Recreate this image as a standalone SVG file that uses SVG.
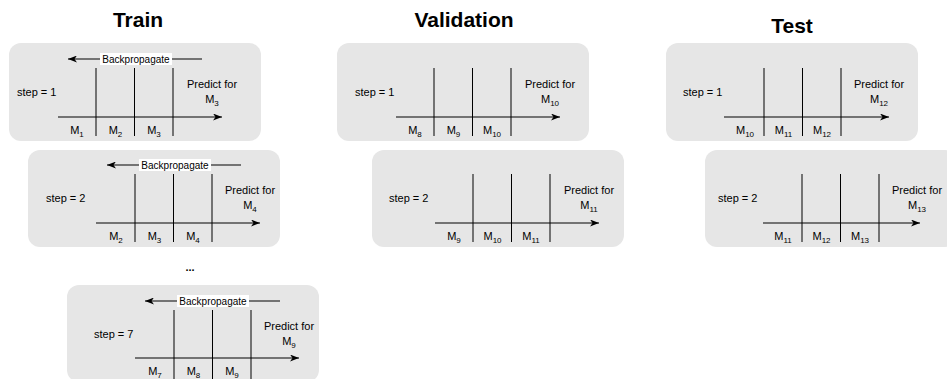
<svg xmlns="http://www.w3.org/2000/svg" width="947" height="379" viewBox="0 0 947 379">
<style>
text{font-family:"Liberation Sans",Arial,sans-serif;fill:#000}
.title{font-size:21px;font-weight:bold;text-anchor:middle}
.panel{fill:#e6e6e6;stroke:none}
.ln{stroke:#000;stroke-width:1;fill:none}
.lbl{font-size:11px}
.mid{text-anchor:middle}
.bp{font-size:10px;text-anchor:middle}
.sub{font-size:8px}
</style>
<defs>
<marker id="ah" viewBox="0 0 9 7" refX="9" refY="3.5" markerWidth="9" markerHeight="7" markerUnits="userSpaceOnUse" orient="auto">
<path d="M0,0 L9,3.5 L0,7 L2.5,3.5 z" fill="#000"/>
</marker>
</defs>
<rect width="947" height="379" fill="#fff"/>
<text class="title" x="138" y="27">Train</text>
<text class="title" x="464" y="27">Validation</text>
<text class="title" x="792" y="33">Test</text>
<text x="190" y="271" class="lbl mid" font-weight="bold">...</text>

<g id="train1" transform="translate(96,117)">
<rect class="panel" x="-87" y="-74" width="252" height="98" rx="12"/>
<g class="connectors">
<line class="ln" x1="0" y1="-49" x2="0" y2="19"/><line class="ln" x1="38.5" y1="-49" x2="38.5" y2="19"/><line class="ln" x1="77" y1="-49" x2="77" y2="19"/>
<line class="ln" x1="-38" y1="0" x2="126" y2="0" marker-end="url(#ah)"/>
<line class="ln" x1="106" y1="-58" x2="-28" y2="-58" marker-end="url(#ah)"/>
</g>
<rect x="4" y="-64" width="72" height="12" fill="#fff"/><text class="bp" x="40" y="-54.5">Backpropagate</text>
<text class="lbl" x="-79" y="-21">step = 1</text>
<text class="lbl mid" x="116" y="-29">Predict for</text><text class="lbl mid" x="116" y="-14">M<tspan class="sub" dy="3">3</tspan></text>
<text class="lbl mid" x="-19" y="17">M<tspan class="sub" dy="3">1</tspan></text><text class="lbl mid" x="19.5" y="17">M<tspan class="sub" dy="3">2</tspan></text><text class="lbl mid" x="58" y="17">M<tspan class="sub" dy="3">3</tspan></text>
</g>

<g id="train2" transform="translate(135,223)">
<rect class="panel" x="-107" y="-73" width="252" height="97" rx="12"/>
<g class="connectors">
<line class="ln" x1="0" y1="-49" x2="0" y2="19"/><line class="ln" x1="38.5" y1="-49" x2="38.5" y2="19"/><line class="ln" x1="77" y1="-49" x2="77" y2="19"/>
<line class="ln" x1="-39" y1="0" x2="125" y2="0" marker-end="url(#ah)"/>
<line class="ln" x1="106" y1="-58" x2="-28" y2="-58" marker-end="url(#ah)"/>
</g>
<rect x="4" y="-64" width="72" height="12" fill="#fff"/><text class="bp" x="40" y="-54.5">Backpropagate</text>
<text class="lbl" x="-89" y="-21">step = 2</text>
<text class="lbl mid" x="115" y="-29">Predict for</text><text class="lbl mid" x="115" y="-14">M<tspan class="sub" dy="3">4</tspan></text>
<text class="lbl mid" x="-19" y="17">M<tspan class="sub" dy="3">2</tspan></text><text class="lbl mid" x="19.5" y="17">M<tspan class="sub" dy="3">3</tspan></text><text class="lbl mid" x="58" y="17">M<tspan class="sub" dy="3">4</tspan></text>
</g>

<g id="train7" transform="translate(174,358)">
<rect class="panel" x="-107" y="-73" width="252" height="97" rx="12"/>
<g class="connectors">
<line class="ln" x1="0" y1="-48" x2="0" y2="21"/><line class="ln" x1="38.5" y1="-48" x2="38.5" y2="21"/><line class="ln" x1="77" y1="-48" x2="77" y2="21"/>
<line class="ln" x1="-39" y1="0" x2="125" y2="0" marker-end="url(#ah)"/>
<line class="ln" x1="106" y1="-57" x2="-29" y2="-57" marker-end="url(#ah)"/>
</g>
<rect x="3" y="-63" width="72" height="12" fill="#fff"/><text class="bp" x="39" y="-53.5">Backpropagate</text>
<text class="lbl" x="-80" y="-20">step = 7</text>
<text class="lbl mid" x="115" y="-28">Predict for</text><text class="lbl mid" x="115" y="-13">M<tspan class="sub" dy="3">9</tspan></text>
<text class="lbl mid" x="-19" y="17">M<tspan class="sub" dy="3">7</tspan></text><text class="lbl mid" x="19.5" y="17">M<tspan class="sub" dy="3">8</tspan></text><text class="lbl mid" x="58" y="17">M<tspan class="sub" dy="3">9</tspan></text>
</g>

<g id="val1" transform="translate(434,117)">
<rect class="panel" x="-97" y="-74" width="252" height="98" rx="12"/>
<g class="connectors">
<line class="ln" x1="0" y1="-49" x2="0" y2="19"/><line class="ln" x1="38.5" y1="-49" x2="38.5" y2="19"/><line class="ln" x1="77" y1="-49" x2="77" y2="19"/>
<line class="ln" x1="-38" y1="0" x2="126" y2="0" marker-end="url(#ah)"/>
</g>
<text class="lbl" x="-79" y="-21">step = 1</text>
<text class="lbl mid" x="116" y="-29">Predict for</text><text class="lbl mid" x="116" y="-14">M<tspan class="sub" dy="3">10</tspan></text>
<text class="lbl mid" x="-19" y="17">M<tspan class="sub" dy="3">8</tspan></text><text class="lbl mid" x="19.5" y="17">M<tspan class="sub" dy="3">9</tspan></text><text class="lbl mid" x="58" y="17">M<tspan class="sub" dy="3">10</tspan></text>
</g>

<g id="val2" transform="translate(473,223)">
<rect class="panel" x="-101" y="-73" width="252" height="97" rx="12"/>
<g class="connectors">
<line class="ln" x1="0" y1="-49" x2="0" y2="19"/><line class="ln" x1="38.5" y1="-49" x2="38.5" y2="19"/><line class="ln" x1="77" y1="-49" x2="77" y2="19"/>
<line class="ln" x1="-38" y1="0" x2="126" y2="0" marker-end="url(#ah)"/>
</g>
<text class="lbl" x="-84" y="-21">step = 2</text>
<text class="lbl mid" x="116" y="-29">Predict for</text><text class="lbl mid" x="116" y="-14">M<tspan class="sub" dy="3">11</tspan></text>
<text class="lbl mid" x="-19" y="17">M<tspan class="sub" dy="3">9</tspan></text><text class="lbl mid" x="19.5" y="17">M<tspan class="sub" dy="3">10</tspan></text><text class="lbl mid" x="58" y="17">M<tspan class="sub" dy="3">11</tspan></text>
</g>

<g id="test1" transform="translate(764,117)">
<rect class="panel" x="-98" y="-74" width="252" height="98" rx="12"/>
<g class="connectors">
<line class="ln" x1="0" y1="-49" x2="0" y2="19"/><line class="ln" x1="38.5" y1="-49" x2="38.5" y2="19"/><line class="ln" x1="77" y1="-49" x2="77" y2="19"/>
<line class="ln" x1="-40" y1="0" x2="125" y2="0" marker-end="url(#ah)"/>
</g>
<text class="lbl" x="-81" y="-21">step = 1</text>
<text class="lbl mid" x="115" y="-29">Predict for</text><text class="lbl mid" x="115" y="-14">M<tspan class="sub" dy="3">12</tspan></text>
<text class="lbl mid" x="-19" y="17">M<tspan class="sub" dy="3">10</tspan></text><text class="lbl mid" x="19.5" y="17">M<tspan class="sub" dy="3">11</tspan></text><text class="lbl mid" x="58" y="17">M<tspan class="sub" dy="3">12</tspan></text>
</g>

<g id="test2" transform="translate(802,223)">
<rect class="panel" x="-97" y="-73" width="252" height="97" rx="12"/>
<g class="connectors">
<line class="ln" x1="0" y1="-49" x2="0" y2="19"/><line class="ln" x1="38.5" y1="-49" x2="38.5" y2="19"/><line class="ln" x1="77" y1="-49" x2="77" y2="19"/>
<line class="ln" x1="-39" y1="0" x2="118" y2="0" marker-end="url(#ah)"/>
</g>
<text class="lbl" x="-84" y="-21">step = 2</text>
<text class="lbl mid" x="115" y="-29">Predict for</text><text class="lbl mid" x="115" y="-14">M<tspan class="sub" dy="3">13</tspan></text>
<text class="lbl mid" x="-19" y="17">M<tspan class="sub" dy="3">11</tspan></text><text class="lbl mid" x="19.5" y="17">M<tspan class="sub" dy="3">12</tspan></text><text class="lbl mid" x="58" y="17">M<tspan class="sub" dy="3">13</tspan></text>
</g>
</svg>
